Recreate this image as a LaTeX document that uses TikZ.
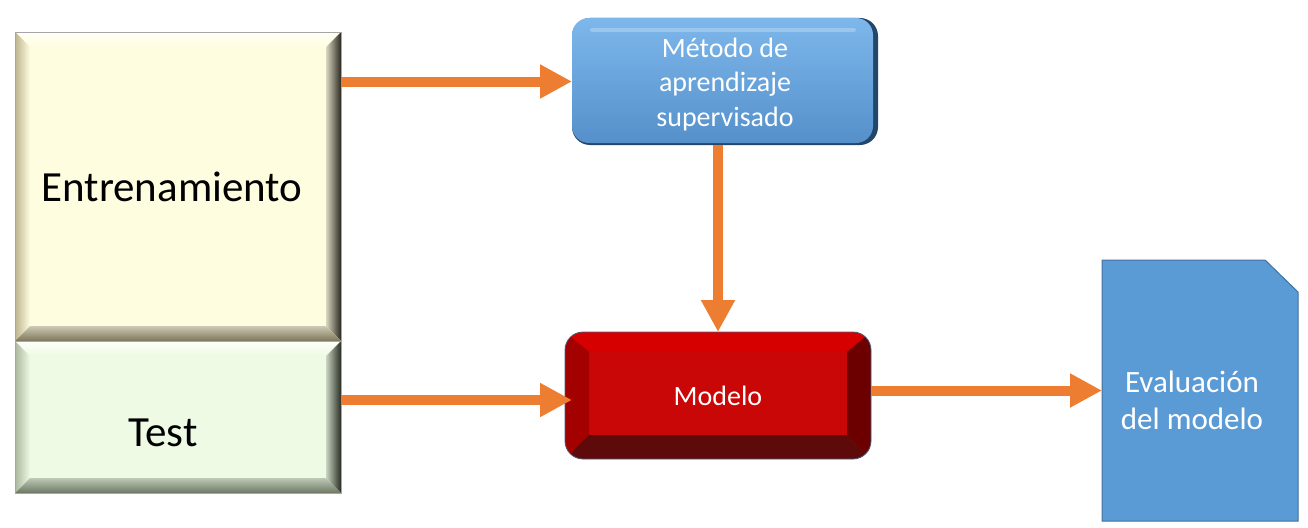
\documentclass[tikz,border=0pt]{standalone}
\usepackage{fontspec}
\setmainfont{Carlito}
\usetikzlibrary{arrows.meta,calc}
\pgfdeclarelayer{background}
\pgfsetlayers{background,main}
\definecolor{trainface}{HTML}{FFFDDF}
\definecolor{traintop}{HTML}{FFFFF6}
\definecolor{trainleft}{HTML}{BDB38F}
\definecolor{trainright}{HTML}{2B2820}
\definecolor{trainbot}{HTML}{7D765A}
\definecolor{testface}{HTML}{EEFAE3}
\definecolor{testtop}{HTML}{FDFFFB}
\definecolor{testleft}{HTML}{ACB79F}
\definecolor{testright}{HTML}{282C24}
\definecolor{testbot}{HTML}{6C7864}
\definecolor{blueface}{HTML}{63A3E0}
\definecolor{bluehi}{HTML}{7DB7EB}
\definecolor{bluelow}{HTML}{5590CB}
\definecolor{blueshadow}{HTML}{23466B}
\definecolor{redface}{HTML}{CA0707}
\definecolor{redtop}{HTML}{D60000}
\definecolor{redleft}{HTML}{A30000}
\definecolor{redright}{HTML}{6C0000}
\definecolor{redbot}{HTML}{5E0A0A}
\definecolor{redborder}{HTML}{4E5E7C}
\definecolor{docfill}{HTML}{5B9BD5}
\definecolor{docline}{HTML}{41719C}
\definecolor{arroworange}{HTML}{ED7D31}
\newcommand\mybevel[7]{%
  \fill[#7] (#1.north west) rectangle (#1.south east);
  \shade[top color=#3, bottom color=#7] (#1.north west) -- (#1.north east) -- ($(#1.north east)+(-#2,#2)$) -- ($(#1.north west)+(#2,#2)$) -- cycle;
  \shade[left color=#4, right color=#7] (#1.north west) -- ($(#1.north west)+(#2,#2)$) -- ($(#1.south west)+(#2,-#2)$) -- (#1.south west) -- cycle;
  \shade[left color=#7!85!black, right color=#5] (#1.north east) -- ($(#1.north east)+(-#2,#2)$) -- ($(#1.south east)+(-#2,-#2)$) -- (#1.south east) -- cycle;
  \shade[top color=#7!80!black, bottom color=#6] (#1.south west) -- ($(#1.south west)+(#2,-#2)$) -- ($(#1.south east)+(-#2,-#2)$) -- (#1.south east) -- cycle;
  \draw[black!35, line width=0.6pt] (#1.north west) rectangle (#1.south east);
}
\tikzset{
  shapebox/.style={draw=none, inner sep=0pt, outer sep=0pt, align=center},
  flow/.style={draw=arroworange, line width=10pt, -{Triangle[length=32pt,width=32pt]}},
  bigtext/.style={font=\fontsize{43}{52}\selectfont, text=black},
  whitetext/.style={font=\fontsize{28}{34.5}\selectfont, text=white}
}
\begin{document}
\begin{tikzpicture}[x=1pt,y=-1pt]
\useasboundingbox (0,0) rectangle (1308,527);
% nodes
\node[shapebox, minimum width=326pt, minimum height=309pt] (train) at (178,186.5) {};
\node[bigtext, inner sep=0pt] (trainlbl) at ($(train.center)+(-6,0)$) {Entrenamiento};
\node[shapebox, minimum width=326pt, minimum height=152pt] (test) at (178,417) {};
\node[bigtext, inner sep=0pt] (testlbl) at ($(test.center)+(-15,16)$) {Test};
\node[shapebox, minimum width=306pt, minimum height=127pt] (blue) at (725,81.5) {};
\node[whitetext, align=center, inner sep=0pt] (bluelbl) at ($(blue.center)+(0,3)$) {Método de\\aprendizaje\\supervisado};
\node[shapebox, whitetext, minimum width=306pt, minimum height=127pt] (red) at (718,395.5) {Modelo};
\node[shapebox, minimum width=196pt, minimum height=261pt] (doc) at (1200,390.5) {};
\node[whitetext, font=\fontsize{31}{37}\selectfont, align=center, inner sep=0pt] (doclbl) at ($(doc.center)+(-8,10)$) {Evaluación\\del modelo};
% shapes
\begin{pgfonlayer}{background}
  \mybevel{train}{15}{traintop}{trainleft}{trainright}{trainbot}{trainface}
  \mybevel{test}{15}{testtop}{testleft}{testright}{testbot}{testface}
  % blue glossy box
  \fill[blueshadow, rounded corners=18pt] (blue.north west) rectangle (blue.south east);
  \shade[rounded corners=17pt, top color=bluehi, middle color=blueface, bottom color=bluelow] (blue.north west) rectangle ($(blue.south east)+(-5,-2)$);
  \draw[white, opacity=0.25, line width=4pt, line cap=round] ($(blue.north west)+(20,12)$) -- ($(blue.north east)+(-24,12)$);
  % red bevelled box
  \begin{scope}
    \clip[rounded corners=18pt] (red.north west) rectangle (red.south east);
    \fill[redface] (red.north west) rectangle (red.south east);
    \fill[redtop] (red.north west) -- (red.north east) -- ($(red.north east)+(-24,20)$) -- ($(red.north west)+(24,20)$) -- cycle;
    \fill[redleft] (red.north west) -- ($(red.north west)+(24,20)$) -- ($(red.south west)+(24,-24)$) -- (red.south west) -- cycle;
    \fill[redright] (red.north east) -- ($(red.north east)+(-24,20)$) -- ($(red.south east)+(-24,-24)$) -- (red.south east) -- cycle;
    \fill[redbot] (red.south west) -- ($(red.south west)+(24,-24)$) -- ($(red.south east)+(-24,-24)$) -- (red.south east) -- cycle;
  \end{scope}
  \draw[redborder, line width=0.8pt, rounded corners=18pt] (red.north west) rectangle (red.south east);
  % document shape
  \draw[docline, fill=docfill, line width=1pt] (doc.north west) -- ($(doc.north east)+(-33,0)$) -- ($(doc.north east)+(0,32)$) -- (doc.south east) -- (doc.south west) -- cycle;
\end{pgfonlayer}
% connectors
\draw[flow] (train.east |- blue.west) -- (blue.west);
\draw[flow] (blue.south -| red.north) -- (red.north);
\coordinate (redin) at ($(red.west)+(7,4.5)$);
\draw[flow] (test.east |- redin) -- (redin);
\draw[flow] (red.east |- doc.west) -- (doc.west);
\end{tikzpicture}
\end{document}
